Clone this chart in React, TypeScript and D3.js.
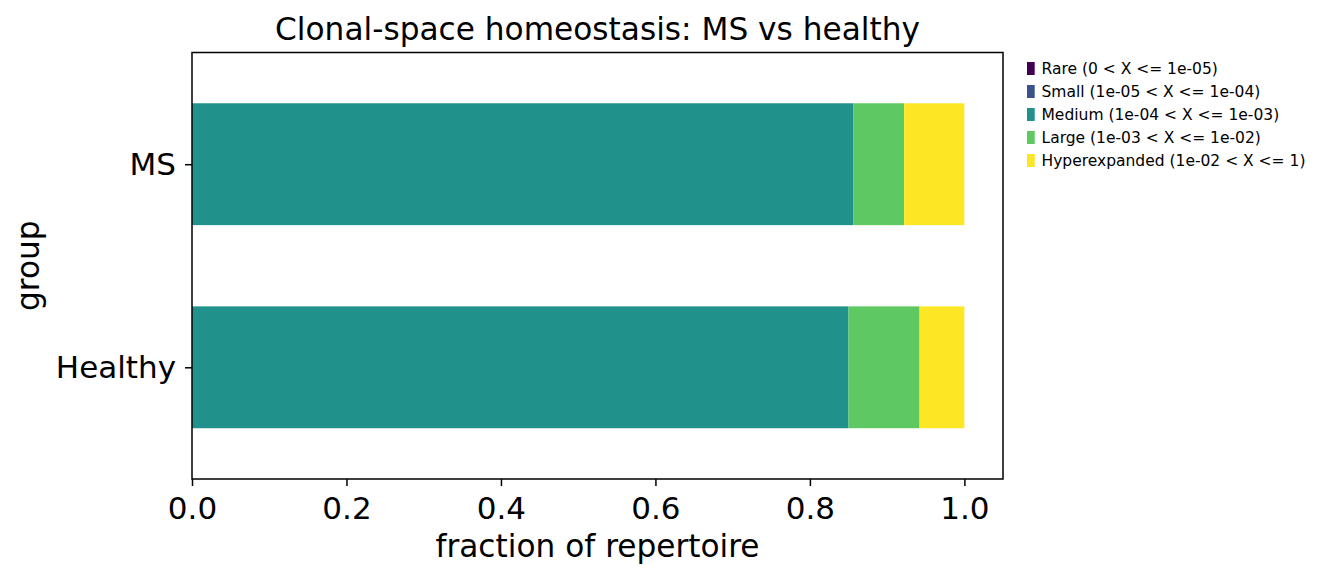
import * as d3 from "d3";
import { useEffect, useRef } from "react";

// groups (bottom to top in the plot), size classes and fractions
const groups = ["Healthy", "MS"];
const classes = ["Rare", "Small", "Medium", "Large", "Hyperexpanded"];
const classLabels = [
	"Rare (0 < X <= 1e-05)",
	"Small (1e-05 < X <= 1e-04)",
	"Medium (1e-04 < X <= 1e-03)",
	"Large (1e-03 < X <= 1e-02)",
	"Hyperexpanded (1e-02 < X <= 1)",
];
const rareValues = [0.0, 0.0];
const smallValues = [0.0, 0.0];
const mediumValues = [0.85, 0.856];
const largeValues = [0.092, 0.066];
const hyperValues = [0.058, 0.078];
const xTicks = [0, 0.2, 0.4, 0.6, 0.8, 1.0];

const colors = ["#440154", "#3b528b", "#21918c", "#5ec962", "#fde725"];

const width = 1322;
const height = 581;
const margin = { top: 52.5, right: 319, bottom: 102, left: 192 };
const font = "DejaVu Sans, sans-serif";

const App = () => {
	const svgRef = useRef<SVGSVGElement | null>(null);

	useEffect(() => {
		const svg = d3.select(svgRef.current);
		svg.selectAll("*").remove();

		const rows = groups.map((g, i) => ({
			group: g,
			idx: i,
			Rare: rareValues[i],
			Small: smallValues[i],
			Medium: mediumValues[i],
			Large: largeValues[i],
			Hyperexpanded: hyperValues[i],
		}));

		const x = d3
			.scaleLinear()
			.domain([0, 1.05])
			.range([margin.left, width - margin.right]);
		const y = d3
			.scaleLinear()
			.domain([-0.55, 1.55])
			.range([height - margin.bottom, margin.top]);
		const barH = 0.6;
		const color = d3.scaleOrdinal<string, string>().domain(classes).range(colors);

		svg.append("rect").attr("width", width).attr("height", height).attr("fill", "white");

		const stacked = d3.stack<any>().keys(classes)(rows);

		svg
			.append("g")
			.selectAll("g")
			.data(stacked)
			.enter()
			.append("g")
			.attr("fill", (s) => color(s.key))
			.selectAll("rect")
			.data((s) => s)
			.enter()
			.append("rect")
			.attr("x", (d) => x(d[0]))
			.attr("width", (d) => x(d[1]) - x(d[0]))
			.attr("y", (d) => y(d.data.idx + barH / 2))
			.attr("height", (d) => y(d.data.idx - barH / 2) - y(d.data.idx + barH / 2));

		// frame
		svg
			.append("rect")
			.attr("x", x(0))
			.attr("y", margin.top)
			.attr("width", x(1.05) - x(0))
			.attr("height", height - margin.bottom - margin.top)
			.attr("fill", "none")
			.attr("stroke", "black")
			.attr("stroke-width", 1.5);

		const xAxis = d3
			.axisBottom(x)
			.tickValues(xTicks)
			.tickFormat(d3.format(".1f"))
			.tickSize(7)
			.tickSizeOuter(0)
			.tickPadding(11);
		const xg = svg
			.append("g")
			.attr("transform", `translate(0, ${height - margin.bottom})`)
			.call(xAxis);
		xg.select(".domain").remove();
		xg.selectAll("line").attr("stroke", "black").attr("stroke-width", 1.5);
		xg.selectAll("text").attr("font-size", 31).attr("font-family", font).attr("fill", "black");

		const yAxis = d3
			.axisLeft(y)
			.tickValues(groups.map((_, i) => i))
			.tickFormat((d) => groups[d as number])
			.tickSize(7)
			.tickSizeOuter(0)
			.tickPadding(9);
		const yg = svg
			.append("g")
			.attr("transform", `translate(${margin.left}, 0)`)
			.call(yAxis);
		yg.select(".domain").remove();
		yg.selectAll("line").attr("stroke", "black").attr("stroke-width", 1.5);
		yg.selectAll("text").attr("font-size", 31).attr("font-family", font).attr("fill", "black");

		// title and axis labels
		svg
			.append("text")
			.attr("x", (x(0) + x(1.05)) / 2)
			.attr("y", 40)
			.attr("text-anchor", "middle")
			.attr("font-family", font)
			.attr("font-size", 31.2)
			.text("Clonal-space homeostasis: MS vs healthy");
		svg
			.append("text")
			.attr("x", (x(0) + x(1.05)) / 2)
			.attr("y", 556.5)
			.attr("text-anchor", "middle")
			.attr("font-family", font)
			.attr("font-size", 31.2)
			.text("fraction of repertoire");
		svg
			.append("text")
			.attr("transform", `translate(38.5, ${(margin.top + height - margin.bottom) / 2}) rotate(-90)`)
			.attr("text-anchor", "middle")
			.attr("font-family", font)
			.attr("font-size", 31.2)
			.text("group");

		// legend
		const legend = svg
			.append("g")
			.selectAll("g")
			.data(classes)
			.enter()
			.append("g")
			.attr("transform", (_, i) => `translate(1027, ${62 + i * 23})`);
		legend
			.append("rect")
			.attr("width", 7.7)
			.attr("height", 13)
			.attr("fill", (d) => color(d));
		legend
			.append("text")
			.attr("x", 14.5)
			.attr("y", 11.5)
			.attr("font-family", font)
			.attr("font-size", 15.5)
			.text((_, i) => classLabels[i]);
	}, []);

	return (
		<svg
			ref={svgRef}
			width={width}
			height={height}
			style={{ position: "absolute", left: 0, top: 0, display: "block" }}
		/>
	);
};

export default App;
